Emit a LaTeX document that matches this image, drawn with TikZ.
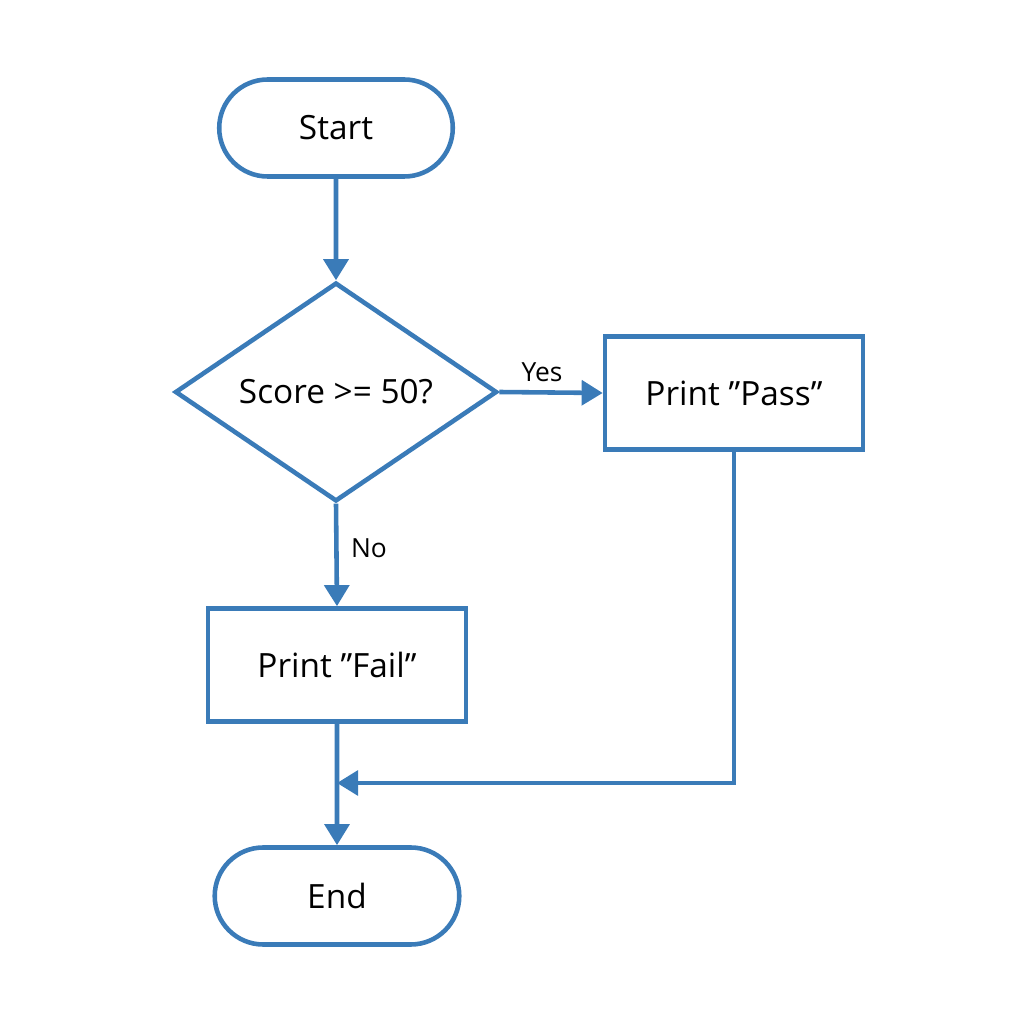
\documentclass[tikz,border=0pt]{standalone}
\usepackage{fontspec}
\setmainfont{Open Sans}
\usetikzlibrary{shapes.geometric,arrows.meta}
\definecolor{flowblue}{HTML}{3A7BB8}
\tikzset{
  box/.style = {draw=flowblue, line width=1.3pt, rectangle, minimum width=2.58cm, minimum height=1.13cm, font=\fontsize{9.5}{11}\selectfont},
  term/.style = {draw=flowblue, line width=1.3pt, rounded rectangle, minimum height=0.97cm, font=\fontsize{9.5}{11}\selectfont},
  test/.style = {draw=flowblue, line width=1.3pt, diamond, inner sep=0pt, minimum width=3.22cm, minimum height=2.17cm, font=\fontsize{9.5}{11}\selectfont},
  flow/.style = {draw=flowblue, line width=1.3pt, -{Triangle[width=7pt,length=6pt]}},
  lbl/.style = {font=\fontsize{7.5}{9}\selectfont}
}
\usetikzlibrary{shapes.misc}
\begin{document}
\begin{tikzpicture}
  \useasboundingbox (0,0) rectangle (10.24,10.24);

  \node[term, minimum width=2.57cm] (start) at (3.36,8.96) {Start};
  \node[test] (check) at (3.36,6.32) {Score >= 50?};
  \node[box] (pass) at (7.34,6.31) {Print "Pass"};
  \node[box] (fail) at (3.37,3.59) {Print "Fail"};
  \node[term, minimum width=2.68cm] (end) at (3.37,1.28) {End};
  \coordinate (join) at (3.37,2.41);

  \draw[flow] (start) -- (check);
  \draw[flow] (check.east) -- (pass.west);
  \draw[flow] (check.south) -- (fail.north);
  \draw[flow] (fail) -- (end);
  \draw[flow] (pass.south) |- (join);

  \node[lbl] (yes) at (5.42,6.52) {Yes};
  \node[lbl] (no) at (3.69,4.76) {No};
\end{tikzpicture}
\end{document}
